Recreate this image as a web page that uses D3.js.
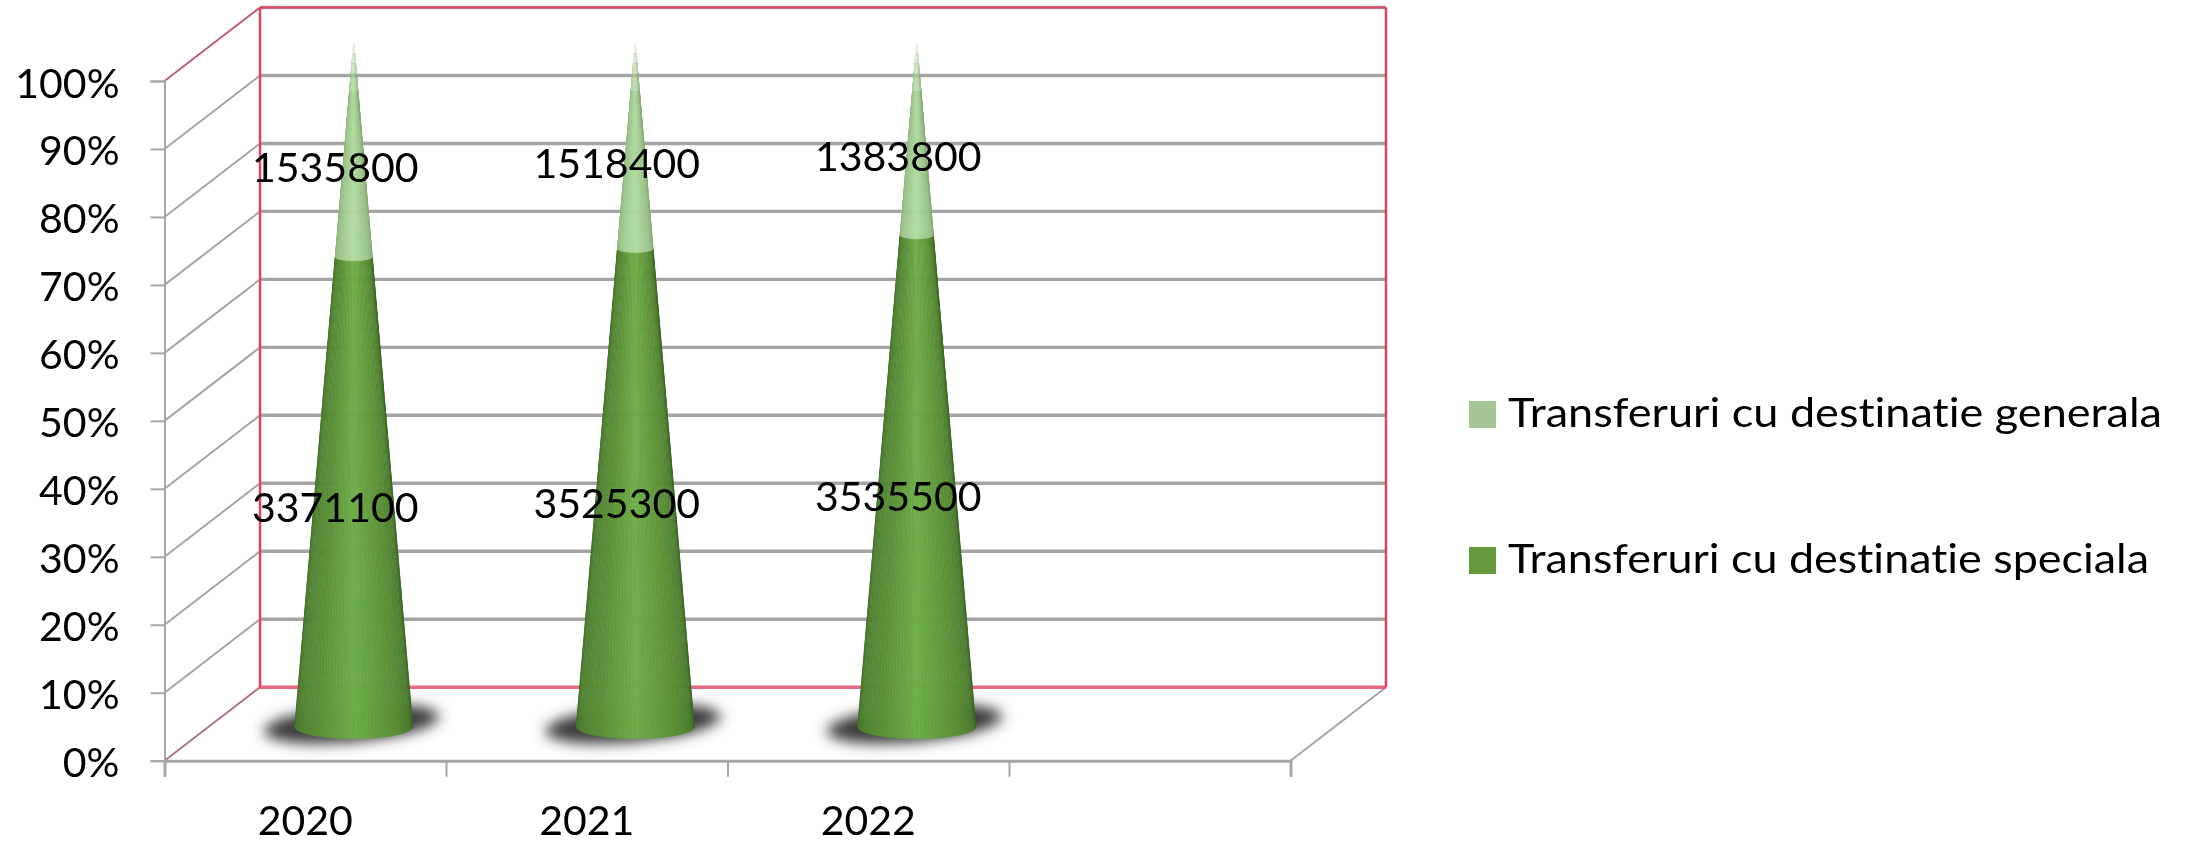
<!DOCTYPE html>
<html><head><meta charset="utf-8">
<style>html,body{margin:0;padding:0;background:#fff}svg{display:block}text{font-family:Lato,"Open Sans",sans-serif;fill:#000;font-variant-ligatures:none}</style>
<script src="https://cdn.jsdelivr.net/npm/d3@7"></script></head>
<body><svg id="c" width="2192" height="843"></svg>
<script>
const categories = ["2020","2021","2022",""];
const speciala = [3371100,3525300,3535500];
const generala = [1535800,1518400,1383800];
const seriesNames = ["Transferuri cu destinatie generala","Transferuri cu destinatie speciala"];
const yTicks = [0,.1,.2,.3,.4,.5,.6,.7,.8,.9,1];

const svg = d3.select("#c");
const defs = svg.append("defs");
defs.append("filter").attr("id","soft").attr("x","-5%").attr("y","-5%").attr("width","110%").attr("height","110%")
  .append("feGaussianBlur").attr("stdDeviation",.7);
defs.append("filter").attr("id","txt").attr("x","-5%").attr("y","-5%").attr("width","110%").attr("height","110%")
  .append("feGaussianBlur").attr("stdDeviation",.45);
defs.append("filter").attr("id","shadow").attr("x","-30%").attr("y","-80%").attr("width","160%").attr("height","260%")
  .append("feGaussianBlur").attr("stdDeviation",7);

const x = d3.scaleBand().domain(categories).range([164.5,1290.5]);
const xEdge = d3.scaleLinear().domain([0,4]).range([164.5,1290.5]);
const y = d3.scaleLinear().domain([0,1]).range([760.7,81]);
const dx = 95.5, dy = -73.5;
const red = "#e2425f", gray = "#a9a5a5";
const fontSize = "41px";

// back wall + side wall + floor
const g = svg.append("g").attr("filter","url(#soft)");
g.selectAll("line.grid").data(yTicks.slice(1,10).concat(1)).join("line")
  .attr("x1",xEdge(0)+dx).attr("x2",xEdge(4)+dx).attr("y1",d=>y(d)+dy).attr("y2",d=>y(d)+dy)
  .attr("stroke","#a4a4a4").attr("stroke-width",3.4);
g.selectAll("line.side").data(yTicks.slice(1,10)).join("line")
  .attr("x1",xEdge(0)).attr("x2",xEdge(0)+dx).attr("y1",d=>y(d)).attr("y2",d=>y(d)+dy)
  .attr("stroke",gray).attr("stroke-width",2);
const wall = svg.append("g").attr("fill","none");
wall.append("line").attr("x1",xEdge(0)).attr("x2",xEdge(0)+dx).attr("y1",y(1)).attr("y2",y(1)+dy).attr("stroke","#c0606f").attr("stroke-width",2);
wall.append("line").attr("x1",xEdge(0)).attr("x2",xEdge(0)+dx).attr("y1",y(0)).attr("y2",y(0)+dy).attr("stroke","#b0757f").attr("stroke-width",2);
wall.append("line").attr("x1",xEdge(4)).attr("x2",xEdge(4)+dx).attr("y1",y(0)).attr("y2",y(0)+dy).attr("stroke",gray).attr("stroke-width",2);
wall.append("line").attr("x1",xEdge(0)+dx).attr("x2",xEdge(4)+dx).attr("y1",y(1)+dy).attr("y2",y(1)+dy).attr("stroke",red).attr("stroke-width",2);
wall.append("line").attr("x1",xEdge(0)+dx).attr("x2",xEdge(4)+dx).attr("y1",y(0)+dy).attr("y2",y(0)+dy).attr("stroke",red).attr("stroke-width",3.5).attr("opacity",.8);
wall.append("line").attr("x1",xEdge(0)+dx).attr("x2",xEdge(0)+dx).attr("y1",y(1)+dy).attr("y2",y(0)+dy).attr("stroke",red).attr("stroke-width",2.5);
wall.append("line").attr("x1",xEdge(4)+dx).attr("x2",xEdge(4)+dx).attr("y1",y(1)+dy).attr("y2",y(0)+dy).attr("stroke",red).attr("stroke-width",2.5);

// axes
const ax = svg.append("g").attr("transform",`translate(${xEdge(0)},0)`)
  .call(d3.axisLeft(y).tickValues(yTicks).tickFormat(d3.format(".0%")).tickSize(14).tickPadding(31));
ax.selectAll("path,line").attr("stroke",gray).attr("stroke-width",2);
ax.selectAll("text").style("font-size",fontSize).attr("dy",null).attr("y",16).attr("filter","url(#txt)");
const bx = svg.append("g").attr("transform",`translate(0,${y(0)})`)
  .call(d3.axisBottom(xEdge).tickValues([0,1,2,3,4]).tickFormat("").tickSize(16));
bx.selectAll("path,line").attr("stroke",gray).attr("stroke-width",2);
bx.select("path").attr("stroke-width",3);
svg.append("g").selectAll("text").data(categories).join("text")
  .attr("x",d=>x(d)+x.bandwidth()/2).attr("y",834.5).attr("text-anchor","middle").attr("filter","url(#txt)")
  .style("font-size",fontSize).text(d=>d);

// cones
const coneDx = 48.5, coneBaseDy = -34, apexY = 43, rx = 59, ry = 12;
const shade = d3.scaleLinear().domain([0,.1,.3,.5,.7,.9,1]);
const darkCol = shade.copy().range(["#3d6a27","#4f7f31","#5a9138","#6fae48","#5d9439","#4d7c2f","#3a6425"]);
const lightCol = shade.copy().range(["#8aae7a","#97bd86","#a3cb92","#b0dca0","#a2c991","#94b983","#86a976"]);
const tipFade = [.93,.95,.97,.985,1];
const N = 48;
const years = categories.slice(0,3);
years.forEach((yr,i)=>{
  const total = speciala[i]+generala[i];
  const share = speciala[i]/total;
  const cx = x(yr)+x.bandwidth()/2+coneDx, cy = y(0)+coneBaseDy, H = cy-apexY;
  svg.append("ellipse").attr("cx",cx-2).attr("cy",cy-3).attr("rx",88).attr("ry",18)
    .attr("transform",`rotate(-5 ${cx} ${cy})`).attr("fill","#383838").attr("filter","url(#shadow)");
  const pt=(t,k)=>{const th=Math.PI*(1-k/N);return [cx+(1-t)*rx*Math.cos(th),cy-H*t+(1-t)*ry*Math.sin(th)];};
  const segs=[[0,share,darkCol,1],[share,tipFade[0],lightCol,1]];
  d3.pairs(tipFade).forEach(([a,b],j)=>segs.push([a,b,lightCol,.8-j*.2]));
  segs.forEach(([t0,t1,col,op])=>{
    const quads=d3.range(N).map(k=>({k,p:[pt(t0,k),pt(t0,k+1),pt(t1,k+1),pt(t1,k)]}));
    svg.append("g").attr("opacity",op).selectAll("path").data(quads).join("path")
      .attr("d",d=>d3.line()(d.p)+"Z")
      .attr("fill",d=>col((d.k+.5)/N)).attr("stroke",d=>col((d.k+.5)/N)).attr("stroke-width",.6);
  });
});
// data labels
const labelX = i=>x(categories[i])+x.bandwidth()/2+30;
const labels = [];
years.forEach((yr,i)=>{
  const total = speciala[i]+generala[i], s = speciala[i]/total;
  labels.push({i,v:speciala[i],m:s/2});
  labels.push({i,v:generala[i],m:s+(1-s)/2});
});
svg.append("g").selectAll("text").data(labels).join("text")
  .attr("x",d=>labelX(d.i)).attr("y",d=>y(d.m)-5.5).attr("text-anchor","middle").attr("filter","url(#txt)")
  .style("font-size",fontSize).text(d=>d.v);

// legend
const legendColors = ["#a5c796","#64993d"];
const legendWidths = [654,641];
const lg = svg.append("g").selectAll("g").data(seriesNames).join("g");
lg.append("rect").attr("x",1469).attr("y",(d,i)=>401+i*146).attr("width",27).attr("height",27).attr("fill",(d,i)=>legendColors[i]);
lg.append("text").attr("x",1508).attr("y",(d,i)=>427+i*146).attr("filter","url(#txt)").style("font-size",fontSize)
  .attr("textLength",(d,i)=>legendWidths[i]).attr("lengthAdjust","spacingAndGlyphs").text(d=>d);
</script></body></html>
